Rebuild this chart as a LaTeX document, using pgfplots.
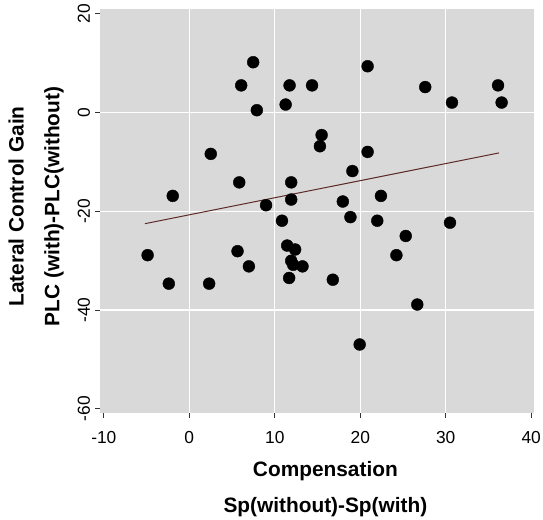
\documentclass[border=0pt]{standalone}
\usepackage{fontspec}
\setmainfont{Liberation Sans}
\usepackage{pgfplots}
\pgfplotsset{compat=1.18}
\definecolor{panel}{RGB}{217,217,217}
\definecolor{fitline}{RGB}{92,40,40}

\begin{document}
\begin{tikzpicture}
\begin{axis}[
  at={(0,0)}, anchor=south west,
  scale only axis, width=437.3pt, height=406.4pt,
  xmin=-10.42, xmax=40.37, ymin=-60.8, ymax=20.94,
  axis background/.style={fill=panel},
  axis line style={draw=none},
  xtick={-10,0,10,20,30,40}, ytick={-60,-40,-20,0,20},
  tick pos=left, tick align=outside, major tick length=5pt,
  tick style={black!80, line width=0.8pt},
  extra x ticks={0,10,20,30}, extra x tick labels={},
  extra y ticks={-40,-20,0}, extra y tick labels={},
  extra tick style={grid=major, major tick length=0pt,
    grid style={white, line width=1.2pt}},
  /pgf/number format/assume math mode=true,
  ticklabel style={font=\fontsize{17.5}{19}\selectfont, inner sep=0pt},
  xticklabel style={anchor=north, yshift=-13.5pt},
  yticklabel style={xshift=-5.5pt, rotate=90, anchor=base},
  xlabel={Compensation\\Sp(without)-Sp(with)},
  ylabel={Lateral Control Gain\\PLC (with)-PLC(without)},
  label style={font=\fontsize{21}{36}\selectfont\bfseries, align=center, inner sep=0pt},
  xlabel style={at={(axis description cs:0.5186,-0.1213)}, anchor=north},
  ylabel style={at={(axis description cs:-0.212,0.511)}, anchor=north},
]
% fitted line
\addplot[fitline, line width=1pt, no marks] coordinates {(-5.19,-22.51) (36.24,-8.17)};
% observations
\addplot[only marks, mark=*, mark size=6pt, black] coordinates {
  (7.47,10.2) (6.07,5.51) (11.73,5.51) (14.36,5.51) (20.86,9.39)
  (27.6,5.17) (36.12,5.51) (30.73,2.03) (36.54,2.03) (11.27,1.63)
  (7.9,0.48) (15.48,-4.55) (15.28,-6.82) (20.86,-7.97) (2.51,-8.37)
  (19.08,-11.85) (5.84,-14.14) (11.92,-14.14) (-1.94,-16.88) (22.42,-16.88)
  (17.96,-18.02) (11.92,-17.62) (8.98,-18.77) (18.85,-21.18) (10.84,-21.91)
  (21.99,-21.91) (30.5,-22.31) (25.32,-25.0) (-4.88,-28.89) (5.64,-28.08)
  (11.45,-26.94) (12.38,-27.74) (24.23,-28.89) (11.92,-30.03) (12.15,-30.84)
  (13.24,-31.16) (6.97,-31.16) (11.68,-33.51) (16.79,-33.86) (-2.4,-34.66)
  (2.32,-34.66) (26.67,-38.89) (19.93,-46.99)
};
\end{axis}
\pgfresetboundingbox
\useasboundingbox (-101pt,-107.3pt) rectangle (446pt,415.7pt);
\end{tikzpicture}
\end{document}
